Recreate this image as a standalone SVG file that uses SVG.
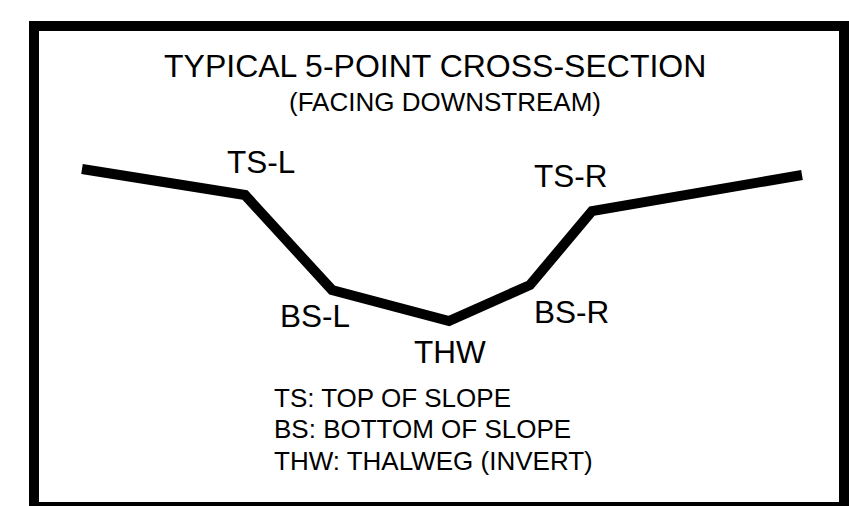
<svg xmlns="http://www.w3.org/2000/svg" width="849" height="506" viewBox="0 0 849 506">
<style>
text{font-family:"Liberation Sans",Arial,sans-serif;fill:#000}
.t{font-size:32px}
.s{font-size:26px}
.l{font-size:31.5px}
.g{font-size:26px}
</style>
<rect x="0" y="0" width="849" height="506" fill="#fff"/>
<rect id="frame" x="34" y="26" width="810" height="481" fill="none" stroke="#000" stroke-width="10"/>
<g id="title">
<text class="t" x="164" y="77">TYPICAL 5-POINT CROSS-SECTION</text>
<text class="s" x="289" y="111">(FACING DOWNSTREAM)</text>
</g>
<g id="connectors">
<polyline points="82,169 245,195 332,290 449,321 530,285 592,211 802,175" fill="none" stroke="#000" stroke-width="10" stroke-linejoin="miter"/>
</g>
<g id="ts-l"><text class="l" x="227" y="173">TS-L</text></g>
<g id="bs-l"><text class="l" x="280" y="327">BS-L</text></g>
<g id="thw"><text class="l" x="414" y="363">THW</text></g>
<g id="bs-r"><text class="l" x="534" y="323">BS-R</text></g>
<g id="ts-r"><text class="l" x="534" y="187">TS-R</text></g>
<g id="legend">
<text class="g" x="274" y="407">TS: TOP OF SLOPE</text>
<text class="g" x="274" y="438">BS: BOTTOM OF SLOPE</text>
<text class="g" x="274" y="470">THW: THALWEG (INVERT)</text>
</g>
</svg>
